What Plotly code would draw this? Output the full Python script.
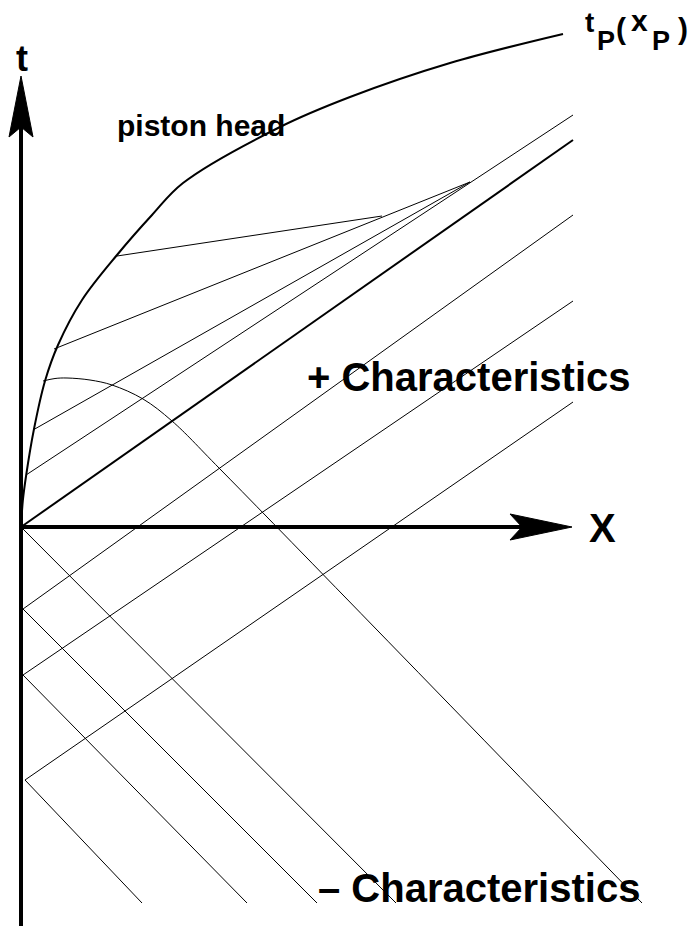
import plotly.graph_objects as go

# Piston path t_P(x_P) in the (x, t) plane
piston_x = [0, 1.9, 5.2, 12.8, 24, 37, 61, 96, 131, 162, 259, 329, 429, 542]
piston_t = [0, 27, 52, 97, 146, 182, 227, 272, 312, 344, 400, 430, 464, 493]

# Expansion fan: + characteristics leaving the piston
fan_x0 = [96, 33, 12, 5]
fan_t0 = [271, 178, 97, 52]
fan_x1 = [361, 449, 449, 552]
fan_t1 = [311, 345, 345, 412]

# Leading + characteristic from the origin
lead_x = [0, 552]
lead_t = [0, 387]

# + characteristics reflected from the wall x = 0
plus_x0 = [2, 2, 4]
plus_t0 = [-82, -148, -253]
plus_x1 = [552, 552, 552]
plus_t1 = [312, 226, 125]

# - characteristics running down to the right
minus_x0 = [0, 2, 2, 4]
minus_t0 = [0, -82, -148, -253]
minus_x1 = [375, 296, 226, 121]
minus_t1 = [-376, -376, -376, -376]

# - characteristic leaving the piston head (curved, then straight)
arc_x = [22, 34, 46, 69, 91, 122, 151, 199, 621]
arc_t = [146, 148.5, 149, 147, 142, 128, 106, 58, -376]

INK = "black"
FONT = "Liberation Sans, Arial, Helvetica, sans-serif"

fig = go.Figure()


def seg(x, t, w=1.0, shape="linear"):
    fig.add_trace(go.Scatter(x=x, y=t, mode="lines",
                             line=dict(color=INK, width=w, shape=shape, smoothing=1.0),
                             hoverinfo="skip"))


# axes with arrow heads
seg([0, 0], [-400, 402], w=4)
seg([0, 503], [0, 0], w=4)
fig.add_trace(go.Scatter(x=[0, 12, 0, -12, 0], y=[451, 390, 400, 390, 451],
                         mode="lines", fill="toself", fillcolor=INK,
                         line=dict(color=INK, width=1), hoverinfo="skip"))
fig.add_trace(go.Scatter(x=[551, 489, 501, 489, 551], y=[0, 13, 0, -13, 0],
                         mode="lines", fill="toself", fillcolor=INK,
                         line=dict(color=INK, width=1), hoverinfo="skip"))

# piston
seg(piston_x, piston_t, w=2, shape="spline")

# fan
for a, b, c, d in zip(fan_x0, fan_t0, fan_x1, fan_t1):
    seg([a, c], [b, d], w=1)

seg(lead_x, lead_t, w=2)

for a, b, c, d in zip(plus_x0, plus_t0, plus_x1, plus_t1):
    seg([a, c], [b, d], w=1)

for a, b, c, d in zip(minus_x0, minus_t0, minus_x1, minus_t1):
    seg([a, c], [b, d], w=1)

seg(arc_x, arc_t, w=1, shape="spline")


def label(text, x, t, size, xanchor="center"):
    fig.add_annotation(x=x, y=t, text="<b>" + text + "</b>", showarrow=False,
                       xanchor=xanchor, yanchor="middle",
                       font=dict(family=FONT, size=size, color=INK))


label("t", 1, 469, 36)
label("X", 581, -1, 40)
label("piston head", 180, 402, 30)
label("+ Characteristics", 448, 150, 40)
label("\u2013 Characteristics", 458, -361, 40)

# t_P(x_P)
label("t", 568, 505, 28)
label("P", 585, 486, 27)
label("(", 600, 499, 30)
label("x", 618, 507, 30)
label("P", 640, 486, 27)
label(")", 662, 499, 30)

fig.update_layout(
    width=693, height=926,
    margin=dict(l=0, r=0, t=0, b=0),
    paper_bgcolor="white", plot_bgcolor="white",
    showlegend=False,
    xaxis=dict(range=[-21, 672], visible=False, fixedrange=True),
    yaxis=dict(range=[-399, 527], visible=False, fixedrange=True),
)

fig.write_html("out.html", config={"displayModeBar": False})
